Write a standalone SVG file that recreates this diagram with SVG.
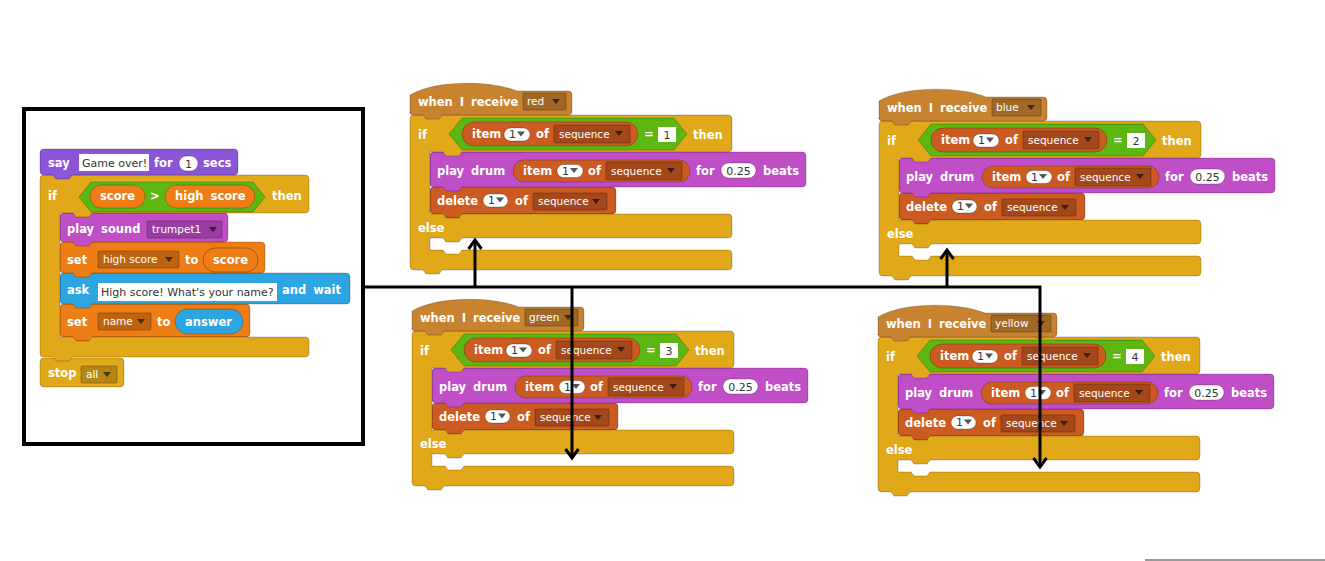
<svg xmlns="http://www.w3.org/2000/svg" width="1325" height="561" viewBox="0 0 1325 561">
<style>
.b{stroke:rgba(0,0,0,0.22);stroke-width:1}
.ctl{fill:#e1a91a}.hat{fill:#c88330}.lst{fill:#cc5b22}.op{fill:#5cb712}.snd{fill:#c04ec6}
.var{fill:#ee7d16}.sns{fill:#2ca5e2}.lks{fill:#8a55d7}
.dd{fill:rgba(0,0,0,0.2);stroke:rgba(0,0,0,0.25);stroke-width:1}
.wi{fill:#fff;stroke:rgba(0,0,0,0.25);stroke-width:1}
.ar{fill:rgba(0,0,0,0.6)}
.ap{fill:#555}
.t{font-family:"DejaVu Sans","Liberation Sans",sans-serif;font-weight:bold;font-size:11.5px;fill:#fff;word-spacing:3px}
.d{font-family:"DejaVu Sans","Liberation Sans",sans-serif;font-size:10.5px;fill:#fff}
.i{font-family:"DejaVu Sans","Liberation Sans",sans-serif;font-size:11px;fill:#333}
</style>
<defs>
<marker id="arr" viewBox="-10 -8 12 16" refX="0" refY="0" markerWidth="12" markerHeight="16" markerUnits="userSpaceOnUse" orient="auto" overflow="visible">
<path d="M-9,-6.5 L0,0 L-9,6.5" fill="none" stroke="#000" stroke-width="3"/>
</marker>
</defs>
<rect width="1325" height="561" fill="#fff"/>

<g id="game-over-script">
<rect x="24" y="109" width="339" height="335" fill="none" stroke="#000" stroke-width="4"/>
<path class="ctl b" d="M40,362 Q40,358 44,358 H120 Q124,358 124,362 V383 Q124,387 120,387 H44 Q40,387 40,383 Z"/>
<path class="var b" d="M60,308 Q60,304 64,304 H246 Q250,304 250,308 V333 Q250,337 246,337 H92 l-3,4 h-13 l-3,-4 H64 Q60,337 60,333 Z"/>
<path class="sns b" d="M60,277 Q60,273 64,273 H346 Q350,273 350,277 V300 Q350,304 346,304 H92 l-3,4 h-13 l-3,-4 H64 Q60,304 60,300 Z"/>
<path class="var b" d="M60,246 Q60,242 64,242 H261 Q265,242 265,246 V269 Q265,273 261,273 H92 l-3,4 h-13 l-3,-4 H64 Q60,273 60,269 Z"/>
<path class="snd b" d="M60,217 Q60,213 64,213 H224 Q228,213 228,217 V238 Q228,242 224,242 H92 l-3,4 h-13 l-3,-4 H64 Q60,242 60,238 Z"/>
<path class="ctl b" d="M40,179 Q40,175 44,175 H305 Q309,175 309,179 V209 Q309,213 305,213 H92 l-3,4 h-13 l-3,-4 H60 V337 H73 l3,4 h13 l3,-4 H305 Q309,337 309,341 V353 Q309,357 305,357 H72 l-3,4 h-13 l-3,-4 H44 Q40,357 40,353 Z"/>
<path class="lks b" d="M40,153 Q40,149 44,149 H234 Q238,149 238,153 V171 Q238,175 234,175 H72 l-3,4 h-13 l-3,-4 H44 Q40,175 40,171 Z"/>
<text class="t" x="48" y="167">say</text>
<rect x="79" y="154" width="70" height="17" fill="#fff"/>
<text class="i" x="82" y="166.5">Game over!</text>
<text class="t" x="154" y="167">for</text>
<rect class="wi" x="179" y="156" width="19" height="15" rx="7.5"/>
<text class="i" x="188.5" y="167.5" text-anchor="middle">1</text>
<text class="t" x="203" y="167">secs</text>
<text class="t" x="48" y="200">if</text>
<path class="op b" d="M79,197 L91,182 H253 L265,197 L253,212 H91 Z"/>
<rect class="var b" x="90" y="185" width="55" height="23" rx="11.5"/>
<text class="t" x="100" y="200">score</text>
<text class="t" x="150" y="200">&gt;</text>
<rect class="var b" x="165" y="185" width="90" height="23" rx="11.5"/>
<text class="t" x="175" y="200">high score</text>
<text class="t" x="272" y="200">then</text>
<text class="t" x="67" y="233">play sound</text>
<rect class="dd" x="147" y="221" width="75" height="17" rx="1"/>
<text class="d" x="152" y="233">trumpet1</text>
<polygon class="ar" points="209,227 217,227 213,232"/>
<text class="t" x="67" y="264">set</text>
<rect class="dd" x="98" y="251" width="81" height="17" rx="1"/>
<text class="d" x="103" y="263">high score</text>
<polygon class="ar" points="165,257 173,257 169,262"/>
<text class="t" x="185" y="264">to</text>
<rect class="var" x="203" y="248" width="55" height="24" rx="12" stroke="rgba(0,0,0,0.3)"/>
<text class="t" x="213" y="264">score</text>
<text class="t" x="67" y="294">ask</text>
<rect x="98" y="283" width="179" height="18" fill="#fff"/>
<text class="i" x="101" y="296">High score! What's your name?</text>
<text class="t" x="282" y="294">and wait</text>
<text class="t" x="67" y="326">set</text>
<rect class="dd" x="98" y="313" width="53" height="17" rx="1"/>
<text class="d" x="103" y="325">name</text>
<polygon class="ar" points="137,319 145,319 141,324"/>
<text class="t" x="157" y="326">to</text>
<rect class="sns b" x="175" y="309" width="68" height="25" rx="12.5"/>
<text class="t" x="185" y="326">answer</text>
<text class="t" x="48" y="377">stop</text>
<rect class="dd" x="81" y="366" width="36" height="17" rx="1"/>
<text class="d" x="86" y="378">all</text>
<polygon class="ar" points="103,372 111,372 107,377"/>
</g>

<g id="receive-red" transform="translate(410,83)">
<path class="lst b" d="M20,108 Q20,104 24,104 H202 Q206,104 206,108 V127 Q206,131 202,131 H52 l-3,4 h-13 l-3,-4 H24 Q20,131 20,127 Z"/>
<path class="snd b" d="M20,73 Q20,69 24,69 H392 Q396,69 396,73 V100 Q396,104 392,104 H52 l-3,4 h-13 l-3,-4 H24 Q20,104 20,100 Z"/>
<path class="ctl b" d="M0,36 Q0,32 4,32 H318 Q322,32 322,36 V65 Q322,69 318,69 H52 l-3,4 h-13 l-3,-4 H20 V131 H33 l3,4 h13 l3,-4 H318 Q322,131 322,135 V151 Q322,155 318,155 H52 l-3,4 h-13 l-3,-4 H20 V167 H33 l3,4 h13 l3,-4 H318 Q322,167 322,171 V183 Q322,187 318,187 H32 l-3,4 h-13 l-3,-4 H4 Q0,187 0,183 Z"/>
<path class="hat b" d="M0,30 V12 C25,-3 80,-3 107,8 H158 Q162,8 162,12 V28 Q162,32 158,32 H32 l-3,4 h-13 l-3,-4 H3 Q0,32 0,29 Z"/>
<text class="t" x="8" y="23">when I receive</text>
<rect class="dd" x="113" y="10" width="43" height="17" rx="1"/>
<text class="d" x="117" y="22">red</text>
<polygon class="ar" points="142,16 150,16 146,21"/>
<text class="t" x="8" y="56">if</text>
<path class="op b" d="M39,51 L52,35 H264 L277,51 L264,67 H52 Z"/>
<rect class="lst b" x="52" y="39" width="176" height="24" rx="12"/>
<text class="t" x="62" y="55">item</text>
<rect class="wi" x="94" y="45" width="26" height="13" rx="6.5"/>
<text class="i" x="99" y="55">1</text>
<polygon class="ap" points="107,48.5 115,48.5 111,53.5"/>
<text class="t" x="126" y="55">of</text>
<rect class="dd" x="144" y="42" width="76" height="18" rx="1"/>
<text class="d" x="149" y="55">sequence</text>
<polygon class="ar" points="205,48 213,48 209,53"/>
<text class="t" x="234" y="55">=</text>
<rect x="248" y="44" width="18" height="15" fill="#fff"/>
<text class="i" x="257" y="56" text-anchor="middle">1</text>
<text class="t" x="283" y="56">then</text>
<text class="t" x="27" y="92">play drum</text>
<rect class="lst b" x="103" y="77" width="177" height="22" rx="11"/>
<text class="t" x="113" y="92">item</text>
<rect class="wi" x="147" y="81.5" width="26" height="13" rx="6.5"/>
<text class="i" x="152" y="91.5">1</text>
<polygon class="ap" points="160,85 168,85 164,90"/>
<text class="t" x="178" y="92">of</text>
<rect class="dd" x="196" y="79" width="76" height="18" rx="1"/>
<text class="d" x="201" y="92">sequence</text>
<polygon class="ar" points="257,85 265,85 261,90"/>
<text class="t" x="286" y="92">for</text>
<rect class="wi" x="311" y="80" width="35" height="15" rx="7.5"/>
<text class="i" x="328.5" y="91.5" text-anchor="middle">0.25</text>
<text class="t" x="353" y="92">beats</text>
<text class="t" x="27" y="122">delete</text>
<rect class="wi" x="73" y="111" width="25" height="13" rx="6.5"/>
<text class="i" x="78" y="121">1</text>
<polygon class="ap" points="86,114.5 94,114.5 90,119.5"/>
<text class="t" x="105" y="122">of</text>
<rect class="dd" x="123" y="110" width="74" height="17" rx="1"/>
<text class="d" x="128" y="122">sequence</text>
<polygon class="ar" points="182,116 190,116 186,121"/>
<text class="t" x="8" y="149">else</text>
</g>

<g id="receive-green" transform="translate(412,299)">
<path class="lst b" d="M20,108 Q20,104 24,104 H202 Q206,104 206,108 V127 Q206,131 202,131 H52 l-3,4 h-13 l-3,-4 H24 Q20,131 20,127 Z"/>
<path class="snd b" d="M20,73 Q20,69 24,69 H392 Q396,69 396,73 V100 Q396,104 392,104 H52 l-3,4 h-13 l-3,-4 H24 Q20,104 20,100 Z"/>
<path class="ctl b" d="M0,36 Q0,32 4,32 H318 Q322,32 322,36 V65 Q322,69 318,69 H52 l-3,4 h-13 l-3,-4 H20 V131 H33 l3,4 h13 l3,-4 H318 Q322,131 322,135 V151 Q322,155 318,155 H52 l-3,4 h-13 l-3,-4 H20 V167 H33 l3,4 h13 l3,-4 H318 Q322,167 322,171 V183 Q322,187 318,187 H32 l-3,4 h-13 l-3,-4 H4 Q0,187 0,183 Z"/>
<path class="hat b" d="M0,30 V12 C25,-3 80,-3 107,8 H168 Q172,8 172,12 V28 Q172,32 168,32 H32 l-3,4 h-13 l-3,-4 H3 Q0,32 0,29 Z"/>
<text class="t" x="8" y="23">when I receive</text>
<rect class="dd" x="113" y="10" width="53" height="17" rx="1"/>
<text class="d" x="117" y="22">green</text>
<polygon class="ar" points="152,16 160,16 156,21"/>
<text class="t" x="8" y="56">if</text>
<path class="op b" d="M39,51 L52,35 H264 L277,51 L264,67 H52 Z"/>
<rect class="lst b" x="52" y="39" width="176" height="24" rx="12"/>
<text class="t" x="62" y="55">item</text>
<rect class="wi" x="94" y="45" width="26" height="13" rx="6.5"/>
<text class="i" x="99" y="55">1</text>
<polygon class="ap" points="107,48.5 115,48.5 111,53.5"/>
<text class="t" x="126" y="55">of</text>
<rect class="dd" x="144" y="42" width="76" height="18" rx="1"/>
<text class="d" x="149" y="55">sequence</text>
<polygon class="ar" points="205,48 213,48 209,53"/>
<text class="t" x="234" y="55">=</text>
<rect x="248" y="44" width="18" height="15" fill="#fff"/>
<text class="i" x="257" y="56" text-anchor="middle">3</text>
<text class="t" x="283" y="56">then</text>
<text class="t" x="27" y="92">play drum</text>
<rect class="lst b" x="103" y="77" width="177" height="22" rx="11"/>
<text class="t" x="113" y="92">item</text>
<rect class="wi" x="147" y="81.5" width="26" height="13" rx="6.5"/>
<text class="i" x="152" y="91.5">1</text>
<polygon class="ap" points="160,85 168,85 164,90"/>
<text class="t" x="178" y="92">of</text>
<rect class="dd" x="196" y="79" width="76" height="18" rx="1"/>
<text class="d" x="201" y="92">sequence</text>
<polygon class="ar" points="257,85 265,85 261,90"/>
<text class="t" x="286" y="92">for</text>
<rect class="wi" x="311" y="80" width="35" height="15" rx="7.5"/>
<text class="i" x="328.5" y="91.5" text-anchor="middle">0.25</text>
<text class="t" x="353" y="92">beats</text>
<text class="t" x="27" y="122">delete</text>
<rect class="wi" x="73" y="111" width="25" height="13" rx="6.5"/>
<text class="i" x="78" y="121">1</text>
<polygon class="ap" points="86,114.5 94,114.5 90,119.5"/>
<text class="t" x="105" y="122">of</text>
<rect class="dd" x="123" y="110" width="74" height="17" rx="1"/>
<text class="d" x="128" y="122">sequence</text>
<polygon class="ar" points="182,116 190,116 186,121"/>
<text class="t" x="8" y="149">else</text>
</g>

<g id="receive-blue" transform="translate(879,89)">
<path class="lst b" d="M20,108 Q20,104 24,104 H202 Q206,104 206,108 V127 Q206,131 202,131 H52 l-3,4 h-13 l-3,-4 H24 Q20,131 20,127 Z"/>
<path class="snd b" d="M20,73 Q20,69 24,69 H392 Q396,69 396,73 V100 Q396,104 392,104 H52 l-3,4 h-13 l-3,-4 H24 Q20,104 20,100 Z"/>
<path class="ctl b" d="M0,36 Q0,32 4,32 H318 Q322,32 322,36 V65 Q322,69 318,69 H52 l-3,4 h-13 l-3,-4 H20 V131 H33 l3,4 h13 l3,-4 H318 Q322,131 322,135 V151 Q322,155 318,155 H52 l-3,4 h-13 l-3,-4 H20 V167 H33 l3,4 h13 l3,-4 H318 Q322,167 322,171 V183 Q322,187 318,187 H32 l-3,4 h-13 l-3,-4 H4 Q0,187 0,183 Z"/>
<path class="hat b" d="M0,30 V12 C25,-3 80,-3 107,8 H164 Q168,8 168,12 V28 Q168,32 164,32 H32 l-3,4 h-13 l-3,-4 H3 Q0,32 0,29 Z"/>
<text class="t" x="8" y="23">when I receive</text>
<rect class="dd" x="113" y="10" width="49" height="17" rx="1"/>
<text class="d" x="117" y="22">blue</text>
<polygon class="ar" points="148,16 156,16 152,21"/>
<text class="t" x="8" y="56">if</text>
<path class="op b" d="M39,51 L52,35 H264 L277,51 L264,67 H52 Z"/>
<rect class="lst b" x="52" y="39" width="176" height="24" rx="12"/>
<text class="t" x="62" y="55">item</text>
<rect class="wi" x="94" y="45" width="26" height="13" rx="6.5"/>
<text class="i" x="99" y="55">1</text>
<polygon class="ap" points="107,48.5 115,48.5 111,53.5"/>
<text class="t" x="126" y="55">of</text>
<rect class="dd" x="144" y="42" width="76" height="18" rx="1"/>
<text class="d" x="149" y="55">sequence</text>
<polygon class="ar" points="205,48 213,48 209,53"/>
<text class="t" x="234" y="55">=</text>
<rect x="248" y="44" width="18" height="15" fill="#fff"/>
<text class="i" x="257" y="56" text-anchor="middle">2</text>
<text class="t" x="283" y="56">then</text>
<text class="t" x="27" y="92">play drum</text>
<rect class="lst b" x="103" y="77" width="177" height="22" rx="11"/>
<text class="t" x="113" y="92">item</text>
<rect class="wi" x="147" y="81.5" width="26" height="13" rx="6.5"/>
<text class="i" x="152" y="91.5">1</text>
<polygon class="ap" points="160,85 168,85 164,90"/>
<text class="t" x="178" y="92">of</text>
<rect class="dd" x="196" y="79" width="76" height="18" rx="1"/>
<text class="d" x="201" y="92">sequence</text>
<polygon class="ar" points="257,85 265,85 261,90"/>
<text class="t" x="286" y="92">for</text>
<rect class="wi" x="311" y="80" width="35" height="15" rx="7.5"/>
<text class="i" x="328.5" y="91.5" text-anchor="middle">0.25</text>
<text class="t" x="353" y="92">beats</text>
<text class="t" x="27" y="122">delete</text>
<rect class="wi" x="73" y="111" width="25" height="13" rx="6.5"/>
<text class="i" x="78" y="121">1</text>
<polygon class="ap" points="86,114.5 94,114.5 90,119.5"/>
<text class="t" x="105" y="122">of</text>
<rect class="dd" x="123" y="110" width="74" height="17" rx="1"/>
<text class="d" x="128" y="122">sequence</text>
<polygon class="ar" points="182,116 190,116 186,121"/>
<text class="t" x="8" y="149">else</text>
</g>

<g id="receive-yellow" transform="translate(878,305)">
<path class="lst b" d="M20,108 Q20,104 24,104 H202 Q206,104 206,108 V127 Q206,131 202,131 H52 l-3,4 h-13 l-3,-4 H24 Q20,131 20,127 Z"/>
<path class="snd b" d="M20,73 Q20,69 24,69 H392 Q396,69 396,73 V100 Q396,104 392,104 H52 l-3,4 h-13 l-3,-4 H24 Q20,104 20,100 Z"/>
<path class="ctl b" d="M0,36 Q0,32 4,32 H318 Q322,32 322,36 V65 Q322,69 318,69 H52 l-3,4 h-13 l-3,-4 H20 V131 H33 l3,4 h13 l3,-4 H318 Q322,131 322,135 V151 Q322,155 318,155 H52 l-3,4 h-13 l-3,-4 H20 V167 H33 l3,4 h13 l3,-4 H318 Q322,167 322,171 V183 Q322,187 318,187 H32 l-3,4 h-13 l-3,-4 H4 Q0,187 0,183 Z"/>
<path class="hat b" d="M0,30 V12 C25,-3 80,-3 107,8 H175 Q179,8 179,12 V28 Q179,32 175,32 H32 l-3,4 h-13 l-3,-4 H3 Q0,32 0,29 Z"/>
<text class="t" x="8" y="23">when I receive</text>
<rect class="dd" x="113" y="10" width="60" height="17" rx="1"/>
<text class="d" x="117" y="22">yellow</text>
<polygon class="ar" points="159,16 167,16 163,21"/>
<text class="t" x="8" y="56">if</text>
<path class="op b" d="M39,51 L52,35 H264 L277,51 L264,67 H52 Z"/>
<rect class="lst b" x="52" y="39" width="176" height="24" rx="12"/>
<text class="t" x="62" y="55">item</text>
<rect class="wi" x="94" y="45" width="26" height="13" rx="6.5"/>
<text class="i" x="99" y="55">1</text>
<polygon class="ap" points="107,48.5 115,48.5 111,53.5"/>
<text class="t" x="126" y="55">of</text>
<rect class="dd" x="144" y="42" width="76" height="18" rx="1"/>
<text class="d" x="149" y="55">sequence</text>
<polygon class="ar" points="205,48 213,48 209,53"/>
<text class="t" x="234" y="55">=</text>
<rect x="248" y="44" width="18" height="15" fill="#fff"/>
<text class="i" x="257" y="56" text-anchor="middle">4</text>
<text class="t" x="283" y="56">then</text>
<text class="t" x="27" y="92">play drum</text>
<rect class="lst b" x="103" y="77" width="177" height="22" rx="11"/>
<text class="t" x="113" y="92">item</text>
<rect class="wi" x="147" y="81.5" width="26" height="13" rx="6.5"/>
<text class="i" x="152" y="91.5">1</text>
<polygon class="ap" points="160,85 168,85 164,90"/>
<text class="t" x="178" y="92">of</text>
<rect class="dd" x="196" y="79" width="76" height="18" rx="1"/>
<text class="d" x="201" y="92">sequence</text>
<polygon class="ar" points="257,85 265,85 261,90"/>
<text class="t" x="286" y="92">for</text>
<rect class="wi" x="311" y="80" width="35" height="15" rx="7.5"/>
<text class="i" x="328.5" y="91.5" text-anchor="middle">0.25</text>
<text class="t" x="353" y="92">beats</text>
<text class="t" x="27" y="122">delete</text>
<rect class="wi" x="73" y="111" width="25" height="13" rx="6.5"/>
<text class="i" x="78" y="121">1</text>
<polygon class="ap" points="86,114.5 94,114.5 90,119.5"/>
<text class="t" x="105" y="122">of</text>
<rect class="dd" x="123" y="110" width="74" height="17" rx="1"/>
<text class="d" x="128" y="122">sequence</text>
<polygon class="ar" points="182,116 190,116 186,121"/>
<text class="t" x="8" y="149">else</text>
</g>

<g id="connectors" fill="none" stroke="#000" stroke-width="3">
<path d="M363,287 H1040 V467" marker-end="url(#arr)"/>
<path d="M475,287 V240" marker-end="url(#arr)"/>
<path d="M572,287 V458" marker-end="url(#arr)"/>
<path d="M947,287 V250" marker-end="url(#arr)"/>
</g>
<line x1="1145" y1="560" x2="1325" y2="560" stroke="#777" stroke-width="1.5"/>
</svg>
